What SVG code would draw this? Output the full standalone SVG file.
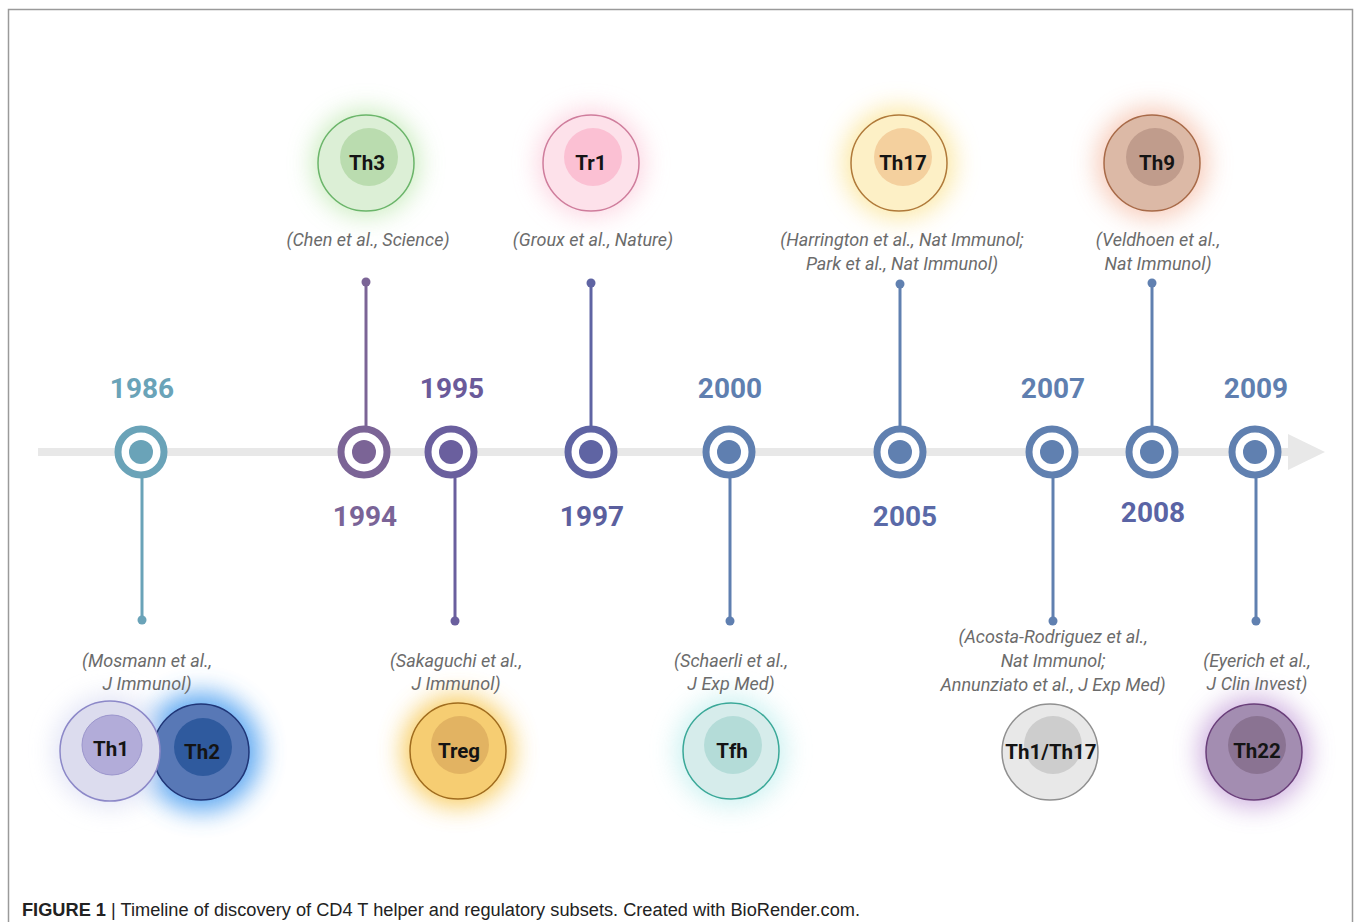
<svg xmlns="http://www.w3.org/2000/svg" width="1354" height="922" viewBox="0 0 1354 922">
<defs>
<filter id="glow" x="-60%" y="-60%" width="220%" height="220%"><feGaussianBlur stdDeviation="12"/></filter>
<style>
.year{font-family:Roboto,"Liberation Sans",sans-serif;font-weight:700;font-size:28px;text-anchor:middle}
.cite{font-family:Roboto,"Liberation Sans",sans-serif;font-style:italic;font-size:18px;fill:#6b6b6b;text-anchor:middle}
.lab{font-family:Roboto,"Liberation Sans",sans-serif;font-weight:700;font-size:20.5px;fill:#141414;text-anchor:middle}
.ring{fill:#fff;stroke-width:7}
.stem{stroke-width:3;fill:none}
.glw{filter:url(#glow);opacity:0.85}
.cap{font-family:"Liberation Sans",Arial,sans-serif;font-size:18px;fill:#222}
</style>
</defs>
<rect width="1354" height="922" fill="#fff"/>
<path d="M8.5 922 V9.5 H1352.5 V922" fill="none" stroke="#9a9a9a" stroke-width="1.5"/>

<g id="timeline">
<rect x="38" y="448" width="1252" height="8" fill="#e8e8e8"/>
<polygon points="1288,434 1325,452 1288,470" fill="#e8e8e8"/>
</g>

<g id="connectors">
<line class="stem" x1="142" y1="478" x2="142" y2="620" stroke="#6aa3b8"/><circle cx="142" cy="620" r="4.5" fill="#6aa3b8"/>
<line class="stem" x1="366" y1="282" x2="366" y2="426" stroke="#7b6496"/><circle cx="366" cy="282" r="4.5" fill="#7b6496"/>
<line class="stem" x1="455" y1="478" x2="455" y2="621" stroke="#6a5f9e"/><circle cx="455" cy="621" r="4.5" fill="#6a5f9e"/>
<line class="stem" x1="591" y1="283" x2="591" y2="426" stroke="#5f64a3"/><circle cx="591" cy="283" r="4.5" fill="#5f64a3"/>
<line class="stem" x1="730" y1="478" x2="730" y2="621" stroke="#5f7fb0"/><circle cx="730" cy="621" r="4.5" fill="#5f7fb0"/>
<line class="stem" x1="900" y1="284" x2="900" y2="426" stroke="#6080b0"/><circle cx="900" cy="284" r="4.5" fill="#6080b0"/>
<line class="stem" x1="1053" y1="478" x2="1053" y2="621" stroke="#6080b0"/><circle cx="1053" cy="621" r="4.5" fill="#6080b0"/>
<line class="stem" x1="1152" y1="283" x2="1152" y2="426" stroke="#6080b0"/><circle cx="1152" cy="283" r="4.5" fill="#6080b0"/>
<line class="stem" x1="1256" y1="478" x2="1256" y2="621" stroke="#6080b0"/><circle cx="1256" cy="621" r="4.5" fill="#6080b0"/>
</g>

<g id="m1986"><circle class="ring" cx="141" cy="452" r="23" stroke="#6aa3b8"/><circle cx="141" cy="452" r="12" fill="#6aa3b8"/><text class="year" x="142" y="398" fill="#6aa3b8">1986</text></g>
<g id="m1994"><circle class="ring" cx="364" cy="452" r="23" stroke="#7b6496"/><circle cx="364" cy="452" r="12" fill="#7b6496"/><text class="year" x="365" y="526" fill="#7a6497">1994</text></g>
<g id="m1995"><circle class="ring" cx="451" cy="452" r="23" stroke="#6a5f9e"/><circle cx="451" cy="452" r="12" fill="#6a5f9e"/><text class="year" x="452" y="398" fill="#6a5a9a">1995</text></g>
<g id="m1997"><circle class="ring" cx="591" cy="452" r="23" stroke="#5f64a3"/><circle cx="591" cy="452" r="12" fill="#5f64a3"/><text class="year" x="592" y="526" fill="#5b5f9e">1997</text></g>
<g id="m2000"><circle class="ring" cx="729" cy="452" r="23" stroke="#5f7fb0"/><circle cx="729" cy="452" r="12" fill="#5f7fb0"/><text class="year" x="730" y="398" fill="#5f7fb0">2000</text></g>
<g id="m2005"><circle class="ring" cx="900" cy="452" r="23" stroke="#6080b0"/><circle cx="900" cy="452" r="12" fill="#6080b0"/><text class="year" x="905" y="526" fill="#5a6aa8">2005</text></g>
<g id="m2007"><circle class="ring" cx="1052" cy="452" r="23" stroke="#6080b0"/><circle cx="1052" cy="452" r="12" fill="#6080b0"/><text class="year" x="1053" y="398" fill="#5f7fb0">2007</text></g>
<g id="m2008"><circle class="ring" cx="1152" cy="452" r="23" stroke="#6080b0"/><circle cx="1152" cy="452" r="12" fill="#6080b0"/><text class="year" x="1153" y="522" fill="#5a64a5">2008</text></g>
<g id="m2009"><circle class="ring" cx="1255" cy="452" r="23" stroke="#6080b0"/><circle cx="1255" cy="452" r="12" fill="#6080b0"/><text class="year" x="1256" y="398" fill="#5f7fb0">2009</text></g>

<g id="th3">
<circle class="glw" cx="366" cy="163" r="54" fill="#c5eab8"/>
<circle cx="366" cy="163" r="48" fill="#dcefd6" stroke="#6bb56a" stroke-width="1.5"/>
<circle cx="369" cy="157" r="29" fill="#badcaf"/>
<text class="lab" x="367" y="170">Th3</text>
<text class="cite" x="368" y="246">(Chen et al., Science)</text>
</g>
<g id="tr1">
<circle class="glw" cx="591" cy="163" r="54" fill="#fcd0de"/>
<circle cx="591" cy="163" r="48" fill="#fde1ea" stroke="#cf7d9c" stroke-width="1.5"/>
<circle cx="593" cy="157" r="29" fill="#fbc0d3"/>
<text class="lab" x="591" y="170">Tr1</text>
<text class="cite" x="593" y="246">(Groux et al., Nature)</text>
</g>
<g id="th17">
<circle class="glw" cx="899" cy="163" r="56" fill="#fbe59a"/>
<circle cx="899" cy="163" r="48" fill="#fdf0c6" stroke="#b07a3a" stroke-width="1.5"/>
<circle cx="903" cy="157" r="29" fill="#f4d09e"/>
<text class="lab" x="903" y="170">Th17</text>
<text class="cite" x="902" y="246">(Harrington et al., Nat Immunol;</text>
<text class="cite" x="902" y="270">Park et al., Nat Immunol)</text>
</g>
<g id="th9">
<circle class="glw" cx="1152" cy="163" r="56" fill="#f6c4b0"/>
<circle cx="1152" cy="163" r="48" fill="#dcb9a6" stroke="#a86a48" stroke-width="1.5"/>
<circle cx="1155" cy="157" r="29" fill="#c09c8c"/>
<text class="lab" x="1157" y="170">Th9</text>
<text class="cite" x="1158" y="246">(Veldhoen et al.,</text>
<text class="cite" x="1158" y="270">Nat Immunol)</text>
</g>
<g id="th1th2">
<circle class="glw" cx="201" cy="752" r="60" fill="#4a9df0"/>
<circle class="glw" cx="110" cy="751" r="56" fill="#dde0f4"/>
<circle cx="201" cy="752" r="48" fill="#5878b6" stroke="#1f3577" stroke-width="1.5"/>
<circle cx="203" cy="747" r="29" fill="#2f5a9e"/>
<circle cx="110" cy="751" r="50" fill="#dcdcee" stroke="#8c88c8" stroke-width="1.5"/>
<circle cx="112" cy="745" r="30" fill="#b2acd9" stroke="#9b95cc" stroke-width="1"/>
<text class="lab" x="111" y="756">Th1</text>
<text class="lab" x="202" y="759">Th2</text>
<text class="cite" x="147" y="667">(Mosmann et al.,</text>
<text class="cite" x="147" y="690">J Immunol)</text>
</g>
<g id="treg">
<circle class="glw" cx="458" cy="751" r="56" fill="#f7c64e"/>
<circle cx="458" cy="751" r="48" fill="#f6cd72" stroke="#a06c1e" stroke-width="1.5"/>
<circle cx="460" cy="745" r="29" fill="#e2b362"/>
<text class="lab" x="459" y="758">Treg</text>
<text class="cite" x="456" y="667">(Sakaguchi et al.,</text>
<text class="cite" x="456" y="690">J Immunol)</text>
</g>
<g id="tfh">
<circle class="glw" cx="731" cy="751" r="56" fill="#c8f0f0"/>
<circle cx="731" cy="751" r="48" fill="#d6eceb" stroke="#3aa898" stroke-width="1.5"/>
<circle cx="733" cy="745" r="29" fill="#b4dcd8"/>
<text class="lab" x="732" y="758">Tfh</text>
<text class="cite" x="731" y="667">(Schaerli et al.,</text>
<text class="cite" x="731" y="690">J Exp Med)</text>
</g>
<g id="th1th17">
<circle cx="1050" cy="752" r="48" fill="#e8e8e8" stroke="#909090" stroke-width="1.5"/>
<circle cx="1053" cy="745" r="29" fill="#cdcdcd"/>
<text class="lab" x="1051" y="759">Th1/Th17</text>
<text class="cite" x="1053" y="643">(Acosta-Rodriguez et al.,</text>
<text class="cite" x="1053" y="667">Nat Immunol;</text>
<text class="cite" x="1053" y="691">Annunziato et al., J Exp Med)</text>
</g>
<g id="th22">
<circle class="glw" cx="1254" cy="752" r="56" fill="#c9a8dc"/>
<circle cx="1254" cy="752" r="48" fill="#a38db1" stroke="#6a3f7a" stroke-width="1.5"/>
<circle cx="1257" cy="745" r="29" fill="#8a7392"/>
<text class="lab" x="1257" y="758">Th22</text>
<text class="cite" x="1257" y="667">(Eyerich et al.,</text>
<text class="cite" x="1257" y="690">J Clin Invest)</text>
</g>

<text class="cap" x="22" y="916" textLength="838" lengthAdjust="spacingAndGlyphs"><tspan font-weight="700">FIGURE 1</tspan> | Timeline of discovery of CD4 T helper and regulatory subsets. Created with BioRender.com.</text>
</svg>
